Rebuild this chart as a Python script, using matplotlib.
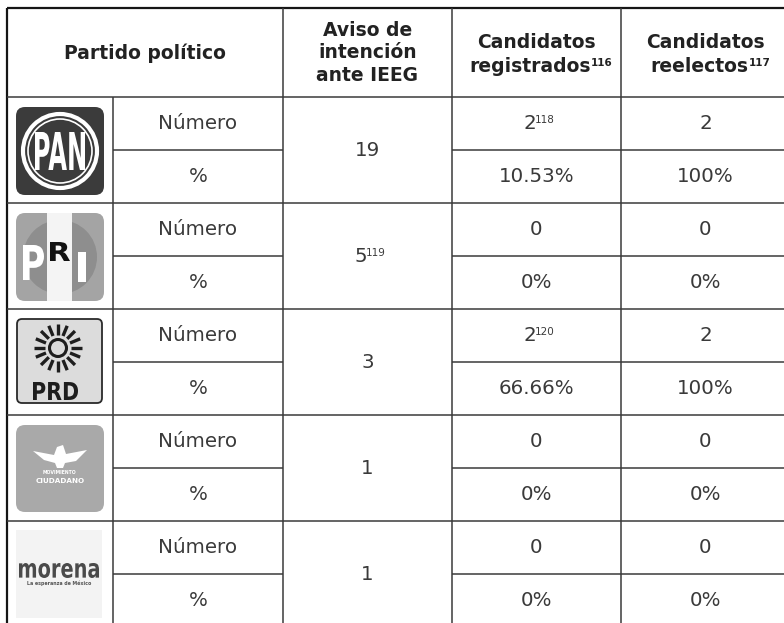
import numpy as np
import matplotlib
matplotlib.use("Agg")
import matplotlib.pyplot as plt
from matplotlib.patches import FancyBboxPatch, Rectangle, Circle, PathPatch, Polygon
from matplotlib.textpath import TextPath
from matplotlib.font_manager import FontProperties
from matplotlib.transforms import Affine2D

# Table content
parties = ["PAN", "PRI", "PRD", "Movimiento Ciudadano", "morena"]
header_party = "Partido político"
header_aviso = "Aviso de\nintención\nante IEEG"
header_reg = ("Candidatos", "registrados", "116")
header_ree = ("Candidatos", "reelectos", "117")
row_labels = ["Número", "%"]
aviso = ["19", "5", "3", "1", "1"]
aviso_notes = ["", "119", "", "", ""]
registrados = ["2", "0", "2", "0", "0"]
registrados_notes = ["118", "", "120", "", ""]
registrados_pct = ["10.53%", "0%", "66.66%", "0%", "0%"]
reelectos = ["2", "0", "2", "0", "0"]
reelectos_pct = ["100%", "0%", "100%", "0%", "0%"]

# Layout (pixels)
W, H = 784, 623
left, top, head_bot = 7, 8, 97
row_h = 53
col_x = [7, 113, 283, 452, 621, 790]
line_c = "#3a3a3a"
text_c = "#3a3a3a"
body_fs = 14.3
head_fs = 13.5
FONT = "DejaVu Sans"


def fit_text(ax, s, x0, y0, x1, y1, color, weight="bold"):
    # draw a string stretched into a box (used for the logos)
    tp = TextPath((0, 0), s, size=10, prop=FontProperties(family=FONT, weight=weight))
    ext = tp.get_extents()
    sx = (x1 - x0) / ext.width
    sy = (y1 - y0) / ext.height
    tr = Affine2D().translate(-ext.x0, -ext.y1).scale(sx, -sy).translate(x0, y0)
    ax.add_patch(PathPatch(tr.transform_path(tp), fc=color, ec="none", zorder=4))


def sup_text(ax, x, y, base, note, size, sup_size, gap=-1.0, **kw):
    if not note:
        ax.text(x, y, base, ha="center", va="center", fontsize=size, **kw)
        return
    shift = len(note) * sup_size * 1.389 * 0.42 / 2
    t = ax.text(x - shift, y, base, ha="center", va="center", fontsize=size, **kw)
    ax.annotate(note, xy=(1, 0.93), xycoords=t, ha="left", va="top",
                fontsize=sup_size, xytext=(gap, 0), textcoords="offset points", **kw)


def draw_pan(ax, x0, y0):
    ax.add_patch(FancyBboxPatch((x0, y0), 88, 88, boxstyle="round,pad=0,rounding_size=9",
                                fc="#3b3b3b", ec="none", zorder=2))
    cx, cy = x0 + 44, y0 + 44
    ax.add_patch(Circle((cx, cy), 37, fc="none", ec="white", lw=3.0, zorder=3))
    ax.add_patch(Circle((cx, cy), 32, fc="none", ec="white", lw=1.2, zorder=3))
    fit_text(ax, "PAN", cx - 25, cy - 19, cx + 25, cy + 19, "white")


def draw_pri(ax, x0, y0):
    box = FancyBboxPatch((x0, y0), 88, 88, boxstyle="round,pad=0,rounding_size=9",
                         fc="#a4a4a4", ec="none", zorder=2)
    ax.add_patch(box)
    cx, cy = x0 + 44, y0 + 44
    ax.add_patch(Circle((cx, cy), 37, fc="#8e8e8e", ec="none", zorder=3))
    stripe = Rectangle((x0 + 31, y0), 25, 88, fc="#f4f4f4", ec="none", zorder=3)
    stripe.set_clip_path(box)
    ax.add_patch(stripe)
    fit_text(ax, "P", x0 + 7, y0 + 32, x0 + 28, y0 + 67, "white")
    fit_text(ax, "R", x0 + 34, y0 + 29, x0 + 54, y0 + 48, "#111111")
    fit_text(ax, "I", x0 + 62, y0 + 39, x0 + 70, y0 + 69, "white")


def draw_prd(ax, x0, y0):
    ax.add_patch(FancyBboxPatch((x0 + 1, y0), 85, 84, boxstyle="round,pad=0,rounding_size=5",
                                fc="#dcdcdc", ec="#2a2a2a", lw=1.3, zorder=2))
    cx, cy = x0 + 42, y0 + 29
    ax.add_patch(Circle((cx, cy), 8.5, fc="none", ec="#1e1e1e", lw=2.2, zorder=3))
    for a in np.linspace(0, 2 * np.pi, 16, endpoint=False):
        ax.plot([cx + 13 * np.cos(a), cx + 24 * np.cos(a)],
                [cy + 13 * np.sin(a), cy + 24 * np.sin(a)],
                color="#1e1e1e", lw=2.4, solid_capstyle="butt", zorder=3)
    fit_text(ax, "PRD", x0 + 17, y0 + 63, x0 + 62, y0 + 81, "#1e1e1e")


def draw_mc(ax, x0, y0):
    ax.add_patch(FancyBboxPatch((x0, y0), 88, 87, boxstyle="round,pad=0,rounding_size=9",
                                fc="#a9a9a9", ec="none", zorder=2))
    cx, cy = x0 + 44, y0 + 32
    wing = [(cx - 27, cy - 6), (cx - 6, cy - 2), (cx - 3, cy - 10), (cx + 3, cy - 12),
            (cx + 6, cy - 3), (cx + 27, cy - 7), (cx + 16, cy + 4), (cx + 5, cy + 6),
            (cx + 3, cy + 11), (cx - 3, cy + 11), (cx - 5, cy + 6), (cx - 16, cy + 3)]
    ax.add_patch(Polygon(wing, closed=True, fc="white", ec="none", zorder=3))
    ax.text(cx, y0 + 47, "MOVIMIENTO", ha="center", va="center", fontsize=3.3,
            color="white", fontweight="bold", family=FONT, zorder=4)
    ax.text(cx, y0 + 56, "CIUDADANO", ha="center", va="center", fontsize=5.2,
            color="white", fontweight="bold", family=FONT, zorder=4)


def draw_morena(ax, x0, y0):
    ax.add_patch(Rectangle((x0, y0 - 1), 86, 88, fc="#f3f3f3", ec="none", zorder=2))
    fit_text(ax, "morena", x0 + 3, y0 + 32, x0 + 83, y0 + 47, "#4a4a4a")
    ax.text(x0 + 43, y0 + 52, "La esperanza de México", ha="center", va="center",
            fontsize=3.4, color="#555555", fontweight="bold", family=FONT, zorder=4)


logo_funcs = [draw_pan, draw_pri, draw_prd, draw_mc, draw_morena]

fig = plt.figure(figsize=(W / 100, H / 100), dpi=100)
ax = fig.add_axes([0, 0, 1, 1])
ax.set_xlim(0, W)
ax.set_ylim(H, 0)
ax.axis("off")

n = len(parties)
bottom = head_bot + 2 * row_h * n

# grid lines
ax.hlines(top, left, W, color="#151515", lw=1.6)
ax.vlines(left, top, bottom, color="#151515", lw=1.6)
ax.vlines(col_x[2:5], top, bottom, color=line_c, lw=1.1)
ax.vlines(col_x[1], head_bot, bottom, color=line_c, lw=1.1)
for i in range(n):
    gt = head_bot + 2 * row_h * i
    ax.hlines(gt, left, W, color=line_c, lw=1.1)
    mid = gt + row_h
    ax.hlines(mid, col_x[1], col_x[2], color=line_c, lw=1.1)
    ax.hlines(mid, col_x[3], W, color=line_c, lw=1.1)

# header
hkw = dict(fontweight="bold", color="#222222", family=FONT)
ax.text((col_x[0] + col_x[2]) / 2, 53, header_party, ha="center", va="center",
        fontsize=head_fs, **hkw)
ax.text((col_x[2] + col_x[3]) / 2, 53, header_aviso, ha="center", va="center",
        fontsize=head_fs, linespacing=1.25, **hkw)
for (l1, l2, note), c in [(header_reg, 3), (header_ree, 4)]:
    xc = (col_x[c] + col_x[c + 1]) / 2
    ax.text(xc, 42, l1, ha="center", va="center", fontsize=head_fs, **hkw)
    sup_text(ax, xc, 66, l2, note, head_fs, 7.5, gap=0.3, **hkw)

# body
bkw = dict(color=text_c, family=FONT, fontweight="normal")
for i in range(n):
    gt = head_bot + 2 * row_h * i
    logo_funcs[i](ax, 16, gt + 10)
    y1 = gt + row_h / 2
    y2 = gt + row_h * 1.5
    lx = (col_x[1] + col_x[2]) / 2
    ax.text(lx, y1, row_labels[0], ha="center", va="center", fontsize=body_fs, **bkw)
    ax.text(lx, y2, row_labels[1], ha="center", va="center", fontsize=body_fs, **bkw)
    sup_text(ax, (col_x[2] + col_x[3]) / 2, gt + row_h, aviso[i], aviso_notes[i],
             body_fs, 7.5, **bkw)
    xr = (col_x[3] + col_x[4]) / 2
    xe = (col_x[4] + col_x[5]) / 2
    sup_text(ax, xr, y1, registrados[i], registrados_notes[i], body_fs, 7.5, **bkw)
    ax.text(xr, y2, registrados_pct[i], ha="center", va="center", fontsize=body_fs, **bkw)
    ax.text(xe, y1, reelectos[i], ha="center", va="center", fontsize=body_fs, **bkw)
    ax.text(xe, y2, reelectos_pct[i], ha="center", va="center", fontsize=body_fs, **bkw)

fig.savefig("out.png", dpi=100)
